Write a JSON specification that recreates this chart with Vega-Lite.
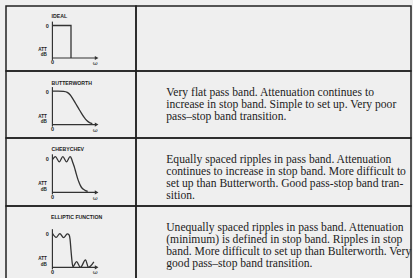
{
  "$schema": "https://vega.github.io/schema/vega-lite/v6.json",
  "background": "#efefef",
  "padding": {"left": 5, "top": 5, "right": 0, "bottom": 0},
  "bounds": "flush",
  "columns": 2,
  "spacing": 0,
  "config": {
    "view": {"stroke": "#222222", "strokeWidth": 1.5},
    "concat": {"spacing": 0},
    "text": {"color": "#222222"}
  },
  "datasets": {
    "info": [
      {"filter": "Ideal", "label": "IDEAL", "description": [""]},
      {"filter": "Butterworth", "label": "BUTTERWORTH", "description": ["Very flat pass band. Attenuation continues to", "increase in stop band. Simple to set up. Very poor", "pass–stop band transition."]},
      {"filter": "Chebychev", "label": "CHEBYCHEV", "description": ["Equally spaced ripples in pass band. Attenuation", "continues to increase in stop band. More difficult to", "set up than Butterworth. Good pass-stop band tran-", "sition."]},
      {"filter": "Elliptic", "label": "ELLIPTIC FUNCTION", "description": ["Unequally spaced ripples in pass band. Attenuation", "(minimum) is defined in stop band. Ripples in stop", "band. More difficult to set up than Bulterworth. Very", "good pass–stop band transition."]}
    ],
    "curves": [
      {"filter": "Ideal", "w": 0, "level": 1},
      {"filter": "Ideal", "w": 1, "level": 1},
      {"filter": "Ideal", "w": 1, "level": 0},
      {"filter": "Butterworth", "w": 0, "level": 1},
      {"filter": "Butterworth", "w": 0.3, "level": 1},
      {"filter": "Butterworth", "w": 0.6, "level": 0.99},
      {"filter": "Butterworth", "w": 0.8, "level": 0.96},
      {"filter": "Butterworth", "w": 0.95, "level": 0.89},
      {"filter": "Butterworth", "w": 1.1, "level": 0.77},
      {"filter": "Butterworth", "w": 1.25, "level": 0.63},
      {"filter": "Butterworth", "w": 1.4, "level": 0.49},
      {"filter": "Butterworth", "w": 1.55, "level": 0.35},
      {"filter": "Butterworth", "w": 1.7, "level": 0.22},
      {"filter": "Butterworth", "w": 1.85, "level": 0.12},
      {"filter": "Butterworth", "w": 2.0, "level": 0.06},
      {"filter": "Butterworth", "w": 2.15, "level": 0.03},
      {"filter": "Chebychev", "w": 0, "level": 0.96},
      {"filter": "Chebychev", "w": 0.16, "level": 1.05},
      {"filter": "Chebychev", "w": 0.37, "level": 0.9},
      {"filter": "Chebychev", "w": 0.56, "level": 1.05},
      {"filter": "Chebychev", "w": 0.76, "level": 0.9},
      {"filter": "Chebychev", "w": 0.95, "level": 1.05},
      {"filter": "Chebychev", "w": 1.03, "level": 0.99},
      {"filter": "Chebychev", "w": 1.1, "level": 0.87},
      {"filter": "Chebychev", "w": 1.19, "level": 0.73},
      {"filter": "Chebychev", "w": 1.27, "level": 0.57},
      {"filter": "Chebychev", "w": 1.35, "level": 0.42},
      {"filter": "Chebychev", "w": 1.43, "level": 0.3},
      {"filter": "Chebychev", "w": 1.51, "level": 0.2},
      {"filter": "Chebychev", "w": 1.59, "level": 0.13},
      {"filter": "Chebychev", "w": 1.67, "level": 0.09},
      {"filter": "Chebychev", "w": 1.78, "level": 0.05},
      {"filter": "Chebychev", "w": 1.9, "level": 0.03},
      {"filter": "Elliptic", "w": 0, "level": 1.0},
      {"filter": "Elliptic", "w": 0.2, "level": 0.88},
      {"filter": "Elliptic", "w": 0.4, "level": 0.99},
      {"filter": "Elliptic", "w": 0.6, "level": 0.87},
      {"filter": "Elliptic", "w": 0.8, "level": 0.98},
      {"filter": "Elliptic", "w": 0.9, "level": 0.95},
      {"filter": "Elliptic", "w": 0.95, "level": 0.82},
      {"filter": "Elliptic", "w": 1.0, "level": 0.5},
      {"filter": "Elliptic", "w": 1.05, "level": 0.2},
      {"filter": "Elliptic", "w": 1.1, "level": 0.02},
      {"filter": "Elliptic", "w": 1.3, "level": 0.17},
      {"filter": "Elliptic", "w": 1.51, "level": 0.0},
      {"filter": "Elliptic", "w": 1.78, "level": 0.22},
      {"filter": "Elliptic", "w": 1.94, "level": 0.0},
      {"filter": "Elliptic", "w": 2.23, "level": 0.16}
    ]
  },
  "concat": [
    {
      "width": 130, "height": 65,
      "data": {"name": "info"},
      "transform": [{"filter": "datum.filter === 'Ideal'"}],
      "layer": [
        {"data": {"name": "curves"}, "transform": [{"filter": "datum.filter === 'Ideal'"}],
         "mark": {"type": "line", "color": "#333333", "strokeWidth": 1.3},
         "encoding": {"x": {"field": "w", "type": "quantitative", "scale": {"domain": [-2.06, 4.13]}, "axis": null},
                      "y": {"field": "level", "type": "quantitative", "scale": {"domain": [-0.245, 1.466]}, "axis": null},
                      "order": {"value": 0}}},
        {"mark": {"type": "rule", "color": "#333333", "strokeWidth": 1.2}, "encoding": {"x": {"datum": 0}, "y": {"datum": -0.06}, "y2": {"datum": 1.12}}},
        {"mark": {"type": "rule", "color": "#333333", "strokeWidth": 1.2}, "encoding": {"x": {"datum": 0}, "x2": {"datum": 2.35}, "y": {"datum": 0}}},
        {"mark": {"type": "point", "shape": "triangle-right", "filled": true, "size": 18, "color": "#333333", "opacity": 1}, "encoding": {"x": {"datum": 2.38}, "y": {"datum": 0}}},
        {"mark": {"type": "text", "fontSize": 5.5, "font": "Liberation Sans", "fontWeight": "bold", "align": "right", "baseline": "middle"}, "encoding": {"x": {"datum": -0.2}, "y": {"datum": 0.98}, "text": {"value": "0"}}},
        {"mark": {"type": "text", "fontSize": 5.5, "font": "Liberation Sans", "fontWeight": "bold", "align": "center", "baseline": "middle"}, "encoding": {"x": {"datum": 0}, "y": {"datum": -0.13}, "text": {"value": "0"}}},
        {"mark": {"type": "text", "fontSize": 4.6, "font": "Liberation Sans", "fontWeight": "bold", "align": "right", "baseline": "middle"}, "encoding": {"x": {"datum": -0.3}, "y": {"datum": 0.24}, "text": {"value": "ATT"}}},
        {"mark": {"type": "text", "fontSize": 4.6, "font": "Liberation Sans", "fontWeight": "bold", "align": "right", "baseline": "middle"}, "encoding": {"x": {"datum": -0.3}, "y": {"datum": 0.08}, "text": {"value": "dB"}}},
        {"mark": {"type": "text", "fontSize": 6, "font": "DejaVu Serif", "align": "center", "baseline": "middle"}, "encoding": {"x": {"datum": 2.3}, "y": {"datum": -0.15}, "text": {"value": "ω"}}},
        {"mark": {"type": "text", "fontSize": 5.2, "font": "Liberation Sans", "fontWeight": "bold", "align": "left", "baseline": "middle"}, "encoding": {"x": {"datum": -0.05}, "y": {"datum": 1.29}, "text": {"field": "label"}}}
      ]
    },
    {
      "width": 275, "height": 65,
      "data": {"name": "info"},
      "transform": [{"filter": "datum.filter === 'Ideal'"}],
      "mark": {"type": "text", "align": "left", "baseline": "top", "font": "Liberation Serif", "fontSize": 11.6, "lineHeight": 12},
      "encoding": {"x": {"datum": 0.11, "scale": {"domain": [0, 1]}, "axis": null}, "y": {"datum": 0.76, "scale": {"domain": [0, 1]}, "axis": null}, "text": {"field": "description"}}
    },
    {
      "width": 130, "height": 67,
      "data": {"name": "info"},
      "transform": [{"filter": "datum.filter === 'Butterworth'"}],
      "layer": [
        {"data": {"name": "curves"}, "transform": [{"filter": "datum.filter === 'Butterworth'"}],
         "mark": {"type": "line", "color": "#333333", "strokeWidth": 1.3, "interpolate": "monotone"},
         "encoding": {"x": {"field": "w", "type": "quantitative", "scale": {"domain": [-2.06, 4.13]}, "axis": null},
                      "y": {"field": "level", "type": "quantitative", "scale": {"domain": [-0.209, 1.54]}, "axis": null},
                      "order": {"value": 0}}},
        {"mark": {"type": "rule", "color": "#333333", "strokeWidth": 1.2}, "encoding": {"x": {"datum": 0}, "y": {"datum": -0.06}, "y2": {"datum": 1.12}}},
        {"mark": {"type": "rule", "color": "#333333", "strokeWidth": 1.2}, "encoding": {"x": {"datum": 0}, "x2": {"datum": 2.35}, "y": {"datum": 0}}},
        {"mark": {"type": "point", "shape": "triangle-right", "filled": true, "size": 18, "color": "#333333", "opacity": 1}, "encoding": {"x": {"datum": 2.38}, "y": {"datum": 0}}},
        {"mark": {"type": "text", "fontSize": 5.5, "font": "Liberation Sans", "fontWeight": "bold", "align": "right", "baseline": "middle"}, "encoding": {"x": {"datum": -0.2}, "y": {"datum": 0.98}, "text": {"value": "0"}}},
        {"mark": {"type": "text", "fontSize": 5.5, "font": "Liberation Sans", "fontWeight": "bold", "align": "center", "baseline": "middle"}, "encoding": {"x": {"datum": 0}, "y": {"datum": -0.13}, "text": {"value": "0"}}},
        {"mark": {"type": "text", "fontSize": 4.6, "font": "Liberation Sans", "fontWeight": "bold", "align": "right", "baseline": "middle"}, "encoding": {"x": {"datum": -0.3}, "y": {"datum": 0.24}, "text": {"value": "ATT"}}},
        {"mark": {"type": "text", "fontSize": 4.6, "font": "Liberation Sans", "fontWeight": "bold", "align": "right", "baseline": "middle"}, "encoding": {"x": {"datum": -0.3}, "y": {"datum": 0.08}, "text": {"value": "dB"}}},
        {"mark": {"type": "text", "fontSize": 6, "font": "DejaVu Serif", "align": "center", "baseline": "middle"}, "encoding": {"x": {"datum": 2.3}, "y": {"datum": -0.15}, "text": {"value": "ω"}}},
        {"mark": {"type": "text", "fontSize": 5.2, "font": "Liberation Sans", "fontWeight": "bold", "align": "left", "baseline": "middle"}, "encoding": {"x": {"datum": -0.05}, "y": {"datum": 1.25}, "text": {"field": "label"}}}
      ]
    },
    {
      "width": 275, "height": 67,
      "data": {"name": "info"},
      "transform": [{"filter": "datum.filter === 'Butterworth'"}],
      "mark": {"type": "text", "align": "left", "baseline": "top", "font": "Liberation Serif", "fontSize": 11.6, "lineHeight": 12},
      "encoding": {"x": {"datum": 0.11, "scale": {"domain": [0, 1]}, "axis": null}, "y": {"datum": 0.76, "scale": {"domain": [0, 1]}, "axis": null}, "text": {"field": "description"}}
    },
    {
      "width": 130, "height": 68,
      "data": {"name": "info"},
      "transform": [{"filter": "datum.filter === 'Chebychev'"}],
      "layer": [
        {"data": {"name": "curves"}, "transform": [{"filter": "datum.filter === 'Chebychev'"}],
         "mark": {"type": "line", "color": "#333333", "strokeWidth": 1.3, "interpolate": "monotone"},
         "encoding": {"x": {"field": "w", "type": "quantitative", "scale": {"domain": [-2.06, 4.13]}, "axis": null},
                      "y": {"field": "level", "type": "quantitative", "scale": {"domain": [-0.212, 1.59]}, "axis": null},
                      "order": {"value": 0}}},
        {"mark": {"type": "rule", "color": "#333333", "strokeWidth": 1.2}, "encoding": {"x": {"datum": 0}, "y": {"datum": -0.06}, "y2": {"datum": 1.12}}},
        {"mark": {"type": "rule", "color": "#333333", "strokeWidth": 1.2}, "encoding": {"x": {"datum": 0}, "x2": {"datum": 2.35}, "y": {"datum": 0}}},
        {"mark": {"type": "point", "shape": "triangle-right", "filled": true, "size": 18, "color": "#333333", "opacity": 1}, "encoding": {"x": {"datum": 2.38}, "y": {"datum": 0}}},
        {"mark": {"type": "text", "fontSize": 5.5, "font": "Liberation Sans", "fontWeight": "bold", "align": "right", "baseline": "middle"}, "encoding": {"x": {"datum": -0.2}, "y": {"datum": 0.98}, "text": {"value": "0"}}},
        {"mark": {"type": "text", "fontSize": 5.5, "font": "Liberation Sans", "fontWeight": "bold", "align": "center", "baseline": "middle"}, "encoding": {"x": {"datum": 0}, "y": {"datum": -0.13}, "text": {"value": "0"}}},
        {"mark": {"type": "text", "fontSize": 4.6, "font": "Liberation Sans", "fontWeight": "bold", "align": "right", "baseline": "middle"}, "encoding": {"x": {"datum": -0.3}, "y": {"datum": 0.24}, "text": {"value": "ATT"}}},
        {"mark": {"type": "text", "fontSize": 4.6, "font": "Liberation Sans", "fontWeight": "bold", "align": "right", "baseline": "middle"}, "encoding": {"x": {"datum": -0.3}, "y": {"datum": 0.08}, "text": {"value": "dB"}}},
        {"mark": {"type": "text", "fontSize": 6, "font": "DejaVu Serif", "align": "center", "baseline": "middle"}, "encoding": {"x": {"datum": 2.3}, "y": {"datum": -0.15}, "text": {"value": "ω"}}},
        {"mark": {"type": "text", "fontSize": 5.2, "font": "Liberation Sans", "fontWeight": "bold", "align": "left", "baseline": "middle"}, "encoding": {"x": {"datum": -0.05}, "y": {"datum": 1.29}, "text": {"field": "label"}}}
      ]
    },
    {
      "width": 275, "height": 68,
      "data": {"name": "info"},
      "transform": [{"filter": "datum.filter === 'Chebychev'"}],
      "mark": {"type": "text", "align": "left", "baseline": "top", "font": "Liberation Serif", "fontSize": 11.6, "lineHeight": 12},
      "encoding": {"x": {"datum": 0.11, "scale": {"domain": [0, 1]}, "axis": null}, "y": {"datum": 0.765, "scale": {"domain": [0, 1]}, "axis": null}, "text": {"field": "description"}}
    },
    {
      "width": 130, "height": 75,
      "data": {"name": "info"},
      "transform": [{"filter": "datum.filter === 'Elliptic'"}],
      "layer": [
        {"data": {"name": "curves"}, "transform": [{"filter": "datum.filter === 'Elliptic'"}],
         "mark": {"type": "line", "color": "#333333", "strokeWidth": 1.3, "interpolate": "monotone"},
         "encoding": {"x": {"field": "w", "type": "quantitative", "scale": {"domain": [-2.06, 4.13]}, "axis": null},
                      "y": {"field": "level", "type": "quantitative", "scale": {"domain": [-0.25, 1.625]}, "axis": null},
                      "order": {"value": 0}}},
        {"mark": {"type": "rule", "color": "#333333", "strokeWidth": 1.2}, "encoding": {"x": {"datum": 0}, "y": {"datum": -0.06}, "y2": {"datum": 1.12}}},
        {"mark": {"type": "rule", "color": "#333333", "strokeWidth": 1.2}, "encoding": {"x": {"datum": 0}, "x2": {"datum": 2.35}, "y": {"datum": 0}}},
        {"mark": {"type": "point", "shape": "triangle-right", "filled": true, "size": 18, "color": "#333333", "opacity": 1}, "encoding": {"x": {"datum": 2.38}, "y": {"datum": 0}}},
        {"mark": {"type": "text", "fontSize": 5.5, "font": "Liberation Sans", "fontWeight": "bold", "align": "right", "baseline": "middle"}, "encoding": {"x": {"datum": -0.2}, "y": {"datum": 0.98}, "text": {"value": "0"}}},
        {"mark": {"type": "text", "fontSize": 5.5, "font": "Liberation Sans", "fontWeight": "bold", "align": "center", "baseline": "middle"}, "encoding": {"x": {"datum": 0}, "y": {"datum": -0.13}, "text": {"value": "0"}}},
        {"mark": {"type": "text", "fontSize": 4.6, "font": "Liberation Sans", "fontWeight": "bold", "align": "right", "baseline": "middle"}, "encoding": {"x": {"datum": -0.3}, "y": {"datum": 0.24}, "text": {"value": "ATT"}}},
        {"mark": {"type": "text", "fontSize": 4.6, "font": "Liberation Sans", "fontWeight": "bold", "align": "right", "baseline": "middle"}, "encoding": {"x": {"datum": -0.3}, "y": {"datum": 0.08}, "text": {"value": "dB"}}},
        {"mark": {"type": "text", "fontSize": 6, "font": "DejaVu Serif", "align": "center", "baseline": "middle"}, "encoding": {"x": {"datum": 2.3}, "y": {"datum": -0.15}, "text": {"value": "ω"}}},
        {"mark": {"type": "text", "fontSize": 5.2, "font": "Liberation Sans", "fontWeight": "bold", "align": "left", "baseline": "middle"}, "encoding": {"x": {"datum": -0.08}, "y": {"datum": 1.48}, "text": {"field": "label"}}}
      ]
    },
    {
      "width": 275, "height": 75,
      "data": {"name": "info"},
      "transform": [{"filter": "datum.filter === 'Elliptic'"}],
      "mark": {"type": "text", "align": "left", "baseline": "top", "font": "Liberation Serif", "fontSize": 11.6, "lineHeight": 12},
      "encoding": {"x": {"datum": 0.11, "scale": {"domain": [0, 1]}, "axis": null}, "y": {"datum": 0.787, "scale": {"domain": [0, 1]}, "axis": null}, "text": {"field": "description"}}
    }
  ]
}
